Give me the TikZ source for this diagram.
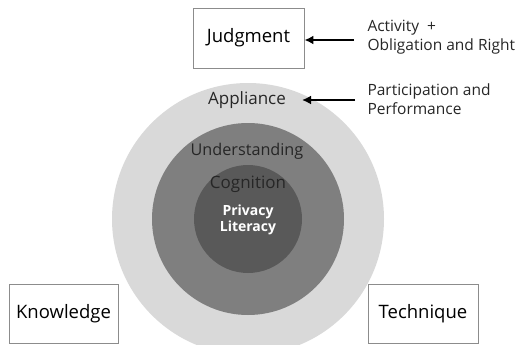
\documentclass[tikz,border=0pt]{standalone}
\usepackage{fontspec}
\setmainfont{Open Sans}
\usetikzlibrary{arrows.meta}
\definecolor{ringA}{HTML}{D9D9D9}
\definecolor{ringB}{HTML}{7F7F7F}
\definecolor{ringC}{HTML}{595959}
\definecolor{frame}{HTML}{8C8C8C}
\tikzset{
  pxfont/.style={font=\fontsize{#1}{#1}\selectfont},
  box/.style={draw=frame, line width=0.9pt, fill=white, inner sep=0pt, pxfont=18.5},
  ringlabel/.style={text=black!85, pxfont=17},
  sidelabel/.style={align=left, anchor=west, text=black!85,
    font=\fontsize{15.5}{19}\selectfont},
  pointer/.style={line width=1.8pt, -{Latex[length=9pt,width=9pt]}},
}
\begin{document}
\begin{tikzpicture}[x=1pt,y=-1pt]
\useasboundingbox (0,0) rectangle (522,345);
\clip (0,0) rectangle (522,345);
% concentric rings
\coordinate (c) at (248,219);
\fill[ringA] (c) circle (136);
\fill[ringB] (c) circle (96);
\fill[ringC] (c) circle (54);
% ring labels
\node[ringlabel] (appl) at (247,100) {Appliance};
\node[ringlabel, pxfont=16.2] (under) at (247,151) {Understanding};
\node[ringlabel] (cogn) at (248,184) {Cognition};
\node[text=white, font=\fontsize{14}{16}\selectfont\bfseries, align=center] (core) at (248,220) {Privacy\\Literacy};
% boxes
\node[box, minimum width=111, minimum height=60] (judg) at (248.5,38) {Judgment};
\node[box, minimum width=109, minimum height=59] (know) at (63.5,313.5) {Knowledge};
\node[box, minimum width=110, minimum height=59] (tech) at (423,313.5) {Technique};
% side notes and pointers
\node[sidelabel] (act) at (364,37) {Activity\ \ +\\Obligation and Right};
\node[sidelabel] (part) at (364,99) {Participation and\\Performance};
\coordinate (actstart) at (354,40);
\coordinate (partstart) at (355,100);
\coordinate (applend) at (302,100);
\draw[pointer] (actstart) -- (judg.east |- actstart);
\draw[pointer] (partstart) -- (applend);
\end{tikzpicture}
\end{document}
